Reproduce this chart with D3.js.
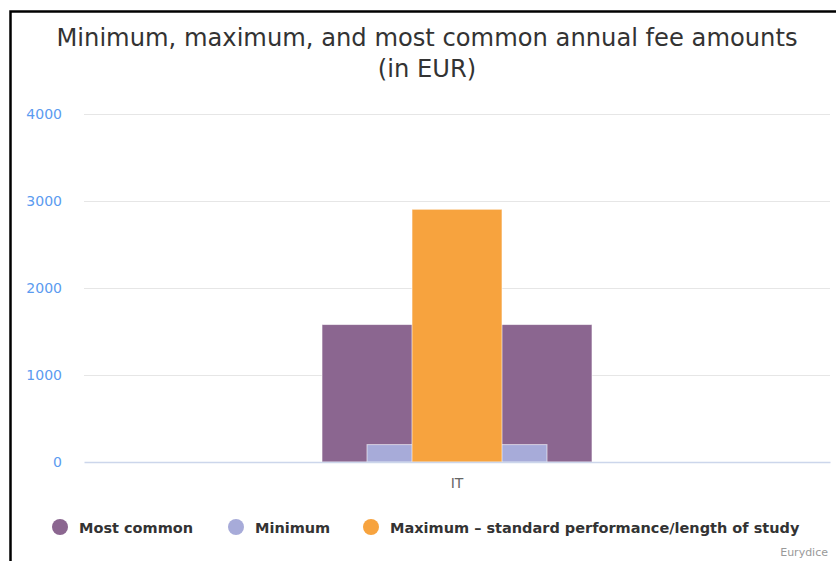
<!DOCTYPE html>
<html>
<head>
<meta charset="utf-8">
<script src="https://cdn.jsdelivr.net/npm/d3@7"></script>
<style>
  html, body { margin: 0; padding: 0; background: #fff; }
  svg { display: block; }
</style>
</head>
<body>
<svg id="chart" width="836" height="561"></svg>
<script>
// Fee data (EUR)
const categories = ["IT"];
const seriesNames = ["Most common", "Minimum", "Maximum – standard performance/length of study"];
const mostCommon = [1580];
const minimum = [200];
const maximum = [2905];
const yTicks = [0, 1000, 2000, 3000, 4000];

const colors = ["#8b6690", "#a7abd9", "#f7a33e"];
const barWidths = [270, 180, 90];
const seriesValues = [mostCommon, minimum, maximum];

const svg = d3.select("#chart");
const font = "'DejaVu Sans', 'Noto Sans', sans-serif";

// Outer frame
svg.append("path")
  .attr("d", "M10.5,570 L10.5,11.5 L840,11.5")
  .attr("fill", "none")
  .attr("stroke", "#000")
  .attr("stroke-width", 2.5);

// Title
const title = svg.append("text")
  .attr("text-anchor", "middle")
  .attr("font-family", font)
  .attr("font-size", 24.2)
  .attr("fill", "#333");
title.append("tspan").attr("x", 427).attr("y", 46)
  .text("Minimum, maximum, and most common annual fee amounts");
title.append("tspan").attr("x", 427).attr("y", 77)
  .text("(in EUR)");

const plot = { left: 84, right: 830, top: 114, bottom: 462 };

const x = d3.scaleBand().domain(categories).range([plot.left, plot.right]);
const y = d3.scaleLinear().domain([0, 4000]).range([plot.bottom, plot.top]);

// Gridlines
svg.append("g").selectAll("line")
  .data(yTicks.filter(t => t !== 0))
  .join("line")
  .attr("x1", plot.left).attr("x2", plot.right)
  .attr("y1", d => Math.round(y(d)) + 0.5).attr("y2", d => Math.round(y(d)) + 0.5)
  .attr("stroke", "#e6e6e6").attr("stroke-width", 1);

// Y axis labels
const yAxis = svg.append("g")
  .attr("transform", `translate(${plot.left - 22},0)`)
  .call(d3.axisLeft(y).tickValues(yTicks).tickSize(0).tickPadding(0).tickFormat(d3.format("d")));
yAxis.select(".domain").remove();
yAxis.selectAll("text")
  .attr("font-family", font)
  .attr("font-size", 14)
  .attr("fill", "#5b9bf0")
  .attr("dy", "0.32em");

// Bars: each series centred on the category, drawn widest first
const barG = svg.append("g");
seriesValues.forEach((vals, si) => {
  barG.selectAll(null)
    .data(vals.map((v, i) => ({ v, c: categories[i] })))
    .join("rect")
    .attr("x", d => x(d.c) + x.bandwidth() / 2 - barWidths[si] / 2)
    .attr("y", d => y(d.v))
    .attr("width", barWidths[si])
    .attr("height", d => y(0) - y(d.v))
    .attr("fill", colors[si])
    .attr("stroke", "#ffffff")
    .attr("stroke-opacity", 0.6)
    .attr("stroke-width", 1);
});

// X axis
const xAxis = svg.append("g")
  .attr("transform", `translate(0,${plot.bottom})`)
  .call(d3.axisBottom(x).tickSize(0).tickPadding(16));
xAxis.select(".domain").attr("stroke", "#ccd6eb").attr("stroke-width", 1.5);
xAxis.selectAll("text")
  .attr("font-family", font)
  .attr("font-size", 14)
  .attr("fill", "#666");

// Legend
const legendX = [60, 236, 371];
const legend = svg.append("g");
seriesNames.forEach((name, i) => {
  const g = legend.append("g").attr("transform", `translate(${legendX[i]},527)`);
  g.append("circle").attr("r", 8).attr("fill", colors[i]);
  g.append("text")
    .attr("x", 19).attr("y", 6)
    .attr("font-family", font)
    .attr("font-size", 14.5)
    .attr("font-weight", "bold")
    .attr("fill", "#333")
    .text(name);
});

// Credit
svg.append("text")
  .attr("x", 828).attr("y", 556)
  .attr("text-anchor", "end")
  .attr("font-family", font)
  .attr("font-size", 11)
  .attr("fill", "#999")
  .text("Eurydice");
</script>
</body>
</html>
